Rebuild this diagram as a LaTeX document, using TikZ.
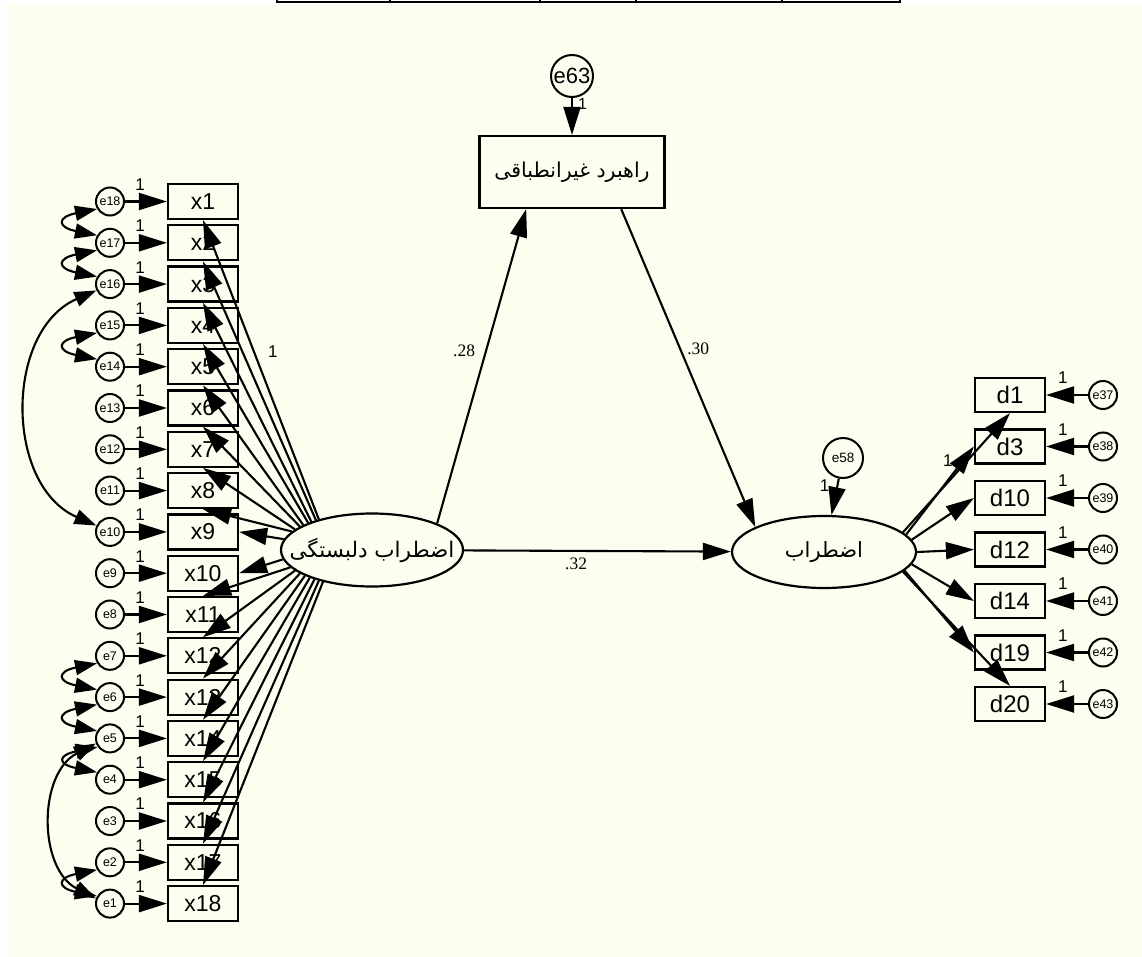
\documentclass[tikz,border=0pt]{standalone}
\usepackage{fontspec}
\setmainfont{Liberation Sans}
\newfontfamily\arabicfont[Script=Arabic]{DejaVu Sans}
\newfontfamily\coeffont{Liberation Serif}
\TeXXeTstate=1
\usetikzlibrary{arrows.meta, shapes.geometric}
\definecolor{amosCream}{RGB}{253,253,240}
\tikzstyle{mObserved} = [rectangle, draw=black, line width=2.2pt, minimum width=70pt, minimum height=35pt, inner sep=0pt, font=\fontsize{23}{23}\selectfont]
\tikzstyle{mIndicator} = [rectangle, draw=black, line width=2.2pt, minimum width=70pt, minimum height=34pt, inner sep=0pt, font=\fontsize{24}{24}\selectfont]
\tikzstyle{mLatent} = [ellipse, draw=black, line width=2.2pt, minimum width=182pt, minimum height=73pt, inner sep=0pt, font=\arabicfont\fontsize{21.5}{21.5}\selectfont]
\tikzstyle{mMediator} = [rectangle, draw=black, line width=2.2pt, minimum width=185pt, minimum height=72pt, inner sep=0pt, font=\arabicfont\fontsize{20.5}{20.5}\selectfont]
\tikzstyle{mError} = [circle, draw=black, line width=2pt, minimum size=28pt, inner sep=0pt, font=\fontsize{12.5}{12.5}\selectfont]
\tikzstyle{mArrow} = [line width=2.1pt, -{Triangle[length=28pt, width=17pt]}]
\tikzstyle{mCov} = [line width=2.1pt, {Triangle[length=22pt, width=15pt]}-{Triangle[length=22pt, width=15pt]}]
\tikzstyle{mOne} = [inner sep=1pt, font=\fontsize{17}{17}\selectfont]
\tikzstyle{mCoef} = [inner sep=1pt, font=\coeffont\fontsize{17.5}{17.5}\selectfont]
\newcommand{\rtlText}[1]{\makebox[0pt][c]{\beginR #1\endR}}

\begin{document}
\begin{tikzpicture}[x=1pt, y=1pt, node distance=41.3pt]
    \useasboundingbox (0,0) rectangle (1142,-957);
    \fill [white] (0,0) rectangle (1142,-957);
    \fill [amosCream] (7,-4) rectangle (1142,-957);
    \draw [line width=1.5pt] (277,0) -- (277,-2) -- (900,-2) -- (900,0);
    \draw [line width=1.5pt] (390,0) -- (390,-2) (540,0) -- (540,-2) (636,0) -- (636,-2) (782,0) -- (782,-2);

    % first factor items
    \node (x1) [mObserved] at (203,-201.5) {x1};
    \node (x2) [mObserved, below of=x1] {x2};
    \node (x3) [mObserved, below of=x2] {x3};
    \node (x4) [mObserved, below of=x3] {x4};
    \node (x5) [mObserved, below of=x4] {x5};
    \node (x6) [mObserved, below of=x5] {x6};
    \node (x7) [mObserved, below of=x6] {x7};
    \node (x8) [mObserved, below of=x7] {x8};
    \node (x9) [mObserved, below of=x8] {x9};
    \node (x10) [mObserved, below of=x9] {x10};
    \node (x11) [mObserved, below of=x10] {x11};
    \node (x12) [mObserved, below of=x11] {x12};
    \node (x13) [mObserved, below of=x12] {x13};
    \node (x14) [mObserved, below of=x13] {x14};
    \node (x15) [mObserved, below of=x14] {x15};
    \node (x16) [mObserved, below of=x15] {x16};
    \node (x17) [mObserved, below of=x16] {x17};
    \node (x18) [mObserved, below of=x17] {x18};

    \node (e18) [mError, left of=x1, xshift=-51.7pt] {e18};
    \node (e17) [mError, left of=x2, xshift=-51.7pt] {e17};
    \node (e16) [mError, left of=x3, xshift=-51.7pt] {e16};
    \node (e15) [mError, left of=x4, xshift=-51.7pt] {e15};
    \node (e14) [mError, left of=x5, xshift=-51.7pt] {e14};
    \node (e13) [mError, left of=x6, xshift=-51.7pt] {e13};
    \node (e12) [mError, left of=x7, xshift=-51.7pt] {e12};
    \node (e11) [mError, left of=x8, xshift=-51.7pt] {e11};
    \node (e10) [mError, left of=x9, xshift=-51.7pt] {e10};
    \node (e9) [mError, left of=x10, xshift=-51.7pt] {e9};
    \node (e8) [mError, left of=x11, xshift=-51.7pt] {e8};
    \node (e7) [mError, left of=x12, xshift=-51.7pt] {e7};
    \node (e6) [mError, left of=x13, xshift=-51.7pt] {e6};
    \node (e5) [mError, left of=x14, xshift=-51.7pt] {e5};
    \node (e4) [mError, left of=x15, xshift=-51.7pt] {e4};
    \node (e3) [mError, left of=x16, xshift=-51.7pt] {e3};
    \node (e2) [mError, left of=x17, xshift=-51.7pt] {e2};
    \node (e1) [mError, left of=x18, xshift=-51.7pt] {e1};

    % latent variables and mediator
    \node (attach) [mLatent] at (372,-550) {\rtlText{اضطراب دلبستگی}};
    \node (strategy) [mMediator] at (572,-172) {\beginR راهبرد غیرانطباقی\endR};
    \node (e63) [mError, above of=strategy, yshift=54.7pt, minimum size=42pt, font=\fontsize{22}{22}\selectfont] {e63};
    \node (anxiety) [mLatent, minimum width=184pt, minimum height=72pt, font=\arabicfont\fontsize{21}{21}\selectfont] at (824,-552) {\rtlText{اضطراب}};
    \node (e58) [mError, minimum size=40pt, font=\fontsize{13.5}{13.5}\selectfont] at (843,-458) {e58};

    % second factor items
    \node (d1) [mIndicator] at (1010,-395) {d1};
    \node (d3) [mIndicator, below of=d1, yshift=-10.2pt] {d3};
    \node (d10) [mIndicator, below of=d3, yshift=-10.2pt] {d10};
    \node (d12) [mIndicator, below of=d10, yshift=-10.2pt] {d12};
    \node (d14) [mIndicator, below of=d12, yshift=-10.2pt] {d14};
    \node (d19) [mIndicator, below of=d14, yshift=-10.2pt] {d19};
    \node (d20) [mIndicator, below of=d19, yshift=-10.2pt] {d20};

    \node (e37) [mError, right of=d1, xshift=51.7pt] {e37};
    \node (e38) [mError, right of=d3, xshift=51.7pt] {e38};
    \node (e39) [mError, right of=d10, xshift=51.7pt] {e39};
    \node (e40) [mError, right of=d12, xshift=51.7pt] {e40};
    \node (e41) [mError, right of=d14, xshift=51.7pt] {e41};
    \node (e42) [mError, right of=d19, xshift=51.7pt] {e42};
    \node (e43) [mError, right of=d20, xshift=51.7pt] {e43};

    % structural paths
    \draw [mArrow] (attach.north east) -- node[mCoef, pos=0.55, left=9pt] {.28} (strategy.219);
    \draw [mArrow] (strategy.323) -- node[mCoef, pos=0.44, right=5pt] {.30} (anxiety.160);
    \draw [mArrow] (attach) -- node[mCoef, pos=0.42, below=5pt] {.32} (anxiety);
    \draw [mArrow] (e63) -- node[mOne, pos=0.15, right=4pt, font=\fontsize{16}{16}\selectfont] {1} (strategy);
    \draw [mArrow] (e58) -- node[mOne, pos=0.2, left=6pt] {1} (anxiety);

    % loadings of the first factor
    \draw [mArrow] (attach.150) -- node[mOne, pos=0.56, right=12pt] {1} (x1.south);
    \draw [mArrow] (attach.152.5) -- (x2.south);
    \draw [mArrow] (attach.155) -- (x3.south);
    \draw [mArrow] (attach.157.5) -- (x4.south);
    \draw [mArrow] (attach.160) -- (x5.south);
    \draw [mArrow] (attach.162.5) -- (x6.south);
    \draw [mArrow] (attach.165) -- (x7.south);
    \draw [mArrow] (attach.167.5) -- (x8.south);
    \draw [mArrow] (attach.173) -- (x9.east);
    \draw [mArrow] (attach.186) -- (x10.east);
    \draw [mArrow] (attach.192) -- (x11.north);
    \draw [mArrow] (attach.195) -- (x12.north);
    \draw [mArrow] (attach.198) -- (x13.north);
    \draw [mArrow] (attach.201) -- (x14.north);
    \draw [mArrow] (attach.204) -- (x15.north);
    \draw [mArrow] (attach.207) -- (x16.north);
    \draw [mArrow] (attach.210) -- (x17.north);
    \draw [mArrow] (attach.213) -- (x18.north);

    \draw [mArrow] (e18) -- node[mOne, pos=0.36, above=9pt] {1} (x1);
    \draw [mArrow] (e17) -- node[mOne, pos=0.36, above=9pt] {1} (x2);
    \draw [mArrow] (e16) -- node[mOne, pos=0.36, above=9pt] {1} (x3);
    \draw [mArrow] (e15) -- node[mOne, pos=0.36, above=9pt] {1} (x4);
    \draw [mArrow] (e14) -- node[mOne, pos=0.36, above=9pt] {1} (x5);
    \draw [mArrow] (e13) -- node[mOne, pos=0.36, above=9pt] {1} (x6);
    \draw [mArrow] (e12) -- node[mOne, pos=0.36, above=9pt] {1} (x7);
    \draw [mArrow] (e11) -- node[mOne, pos=0.36, above=9pt] {1} (x8);
    \draw [mArrow] (e10) -- node[mOne, pos=0.36, above=9pt] {1} (x9);
    \draw [mArrow] (e9) -- node[mOne, pos=0.36, above=9pt] {1} (x10);
    \draw [mArrow] (e8) -- node[mOne, pos=0.36, above=9pt] {1} (x11);
    \draw [mArrow] (e7) -- node[mOne, pos=0.36, above=9pt] {1} (x12);
    \draw [mArrow] (e6) -- node[mOne, pos=0.36, above=9pt] {1} (x13);
    \draw [mArrow] (e5) -- node[mOne, pos=0.36, above=9pt] {1} (x14);
    \draw [mArrow] (e4) -- node[mOne, pos=0.36, above=9pt] {1} (x15);
    \draw [mArrow] (e3) -- node[mOne, pos=0.36, above=9pt] {1} (x16);
    \draw [mArrow] (e2) -- node[mOne, pos=0.36, above=9pt] {1} (x17);
    \draw [mArrow] (e1) -- node[mOne, pos=0.36, above=9pt] {1} (x18);

    % error covariances
    \draw [mCov] (e18.210) .. controls +(-40,-8) and +(-40,8) .. (e17.150);
    \draw [mCov] (e17.210) .. controls +(-40,-8) and +(-40,8) .. (e16.150);
    \draw [mCov] (e16.205) .. controls +(-92,-40) and +(-92,40) .. (e10.155);
    \draw [mCov] (e15.210) .. controls +(-40,-8) and +(-40,8) .. (e14.150);
    \draw [mCov] (e7.210) .. controls +(-40,-8) and +(-40,8) .. (e6.150);
    \draw [mCov] (e6.210) .. controls +(-40,-8) and +(-40,8) .. (e5.150);
    \draw [mCov] (e5.215) .. controls +(-40,-8) and +(-40,8) .. (e4.150);
    \draw [mCov] (e5.200) .. controls +(-58,-30) and +(-58,30) .. (e1.160);
    \draw [mCov] (e2.210) .. controls +(-40,-8) and +(-40,8) .. (e1.150);

    % loadings of the second factor
    \draw [mArrow] (anxiety.14) -- node[mOne, pos=0.42, above=14pt] {1} (d1.south);
    \draw [mArrow] (anxiety.12) -- (d3.west);
    \draw [mArrow] (anxiety.8) -- (d10.west);
    \draw [mArrow] (anxiety.east) -- (d12.west);
    \draw [mArrow] (anxiety.352) -- (d14.west);
    \draw [mArrow] (anxiety.347) -- (d19.west);
    \draw [mArrow] (anxiety.346) -- (d20.north);

    \draw [mArrow] (e37) -- node[mOne, pos=0.6, above=9pt] {1} (d1);
    \draw [mArrow] (e38) -- node[mOne, pos=0.6, above=9pt] {1} (d3);
    \draw [mArrow] (e39) -- node[mOne, pos=0.6, above=9pt] {1} (d10);
    \draw [mArrow] (e40) -- node[mOne, pos=0.6, above=9pt] {1} (d12);
    \draw [mArrow] (e41) -- node[mOne, pos=0.6, above=9pt] {1} (d14);
    \draw [mArrow] (e42) -- node[mOne, pos=0.6, above=9pt] {1} (d19);
    \draw [mArrow] (e43) -- node[mOne, pos=0.6, above=9pt] {1} (d20);
\end{tikzpicture}
\end{document}
